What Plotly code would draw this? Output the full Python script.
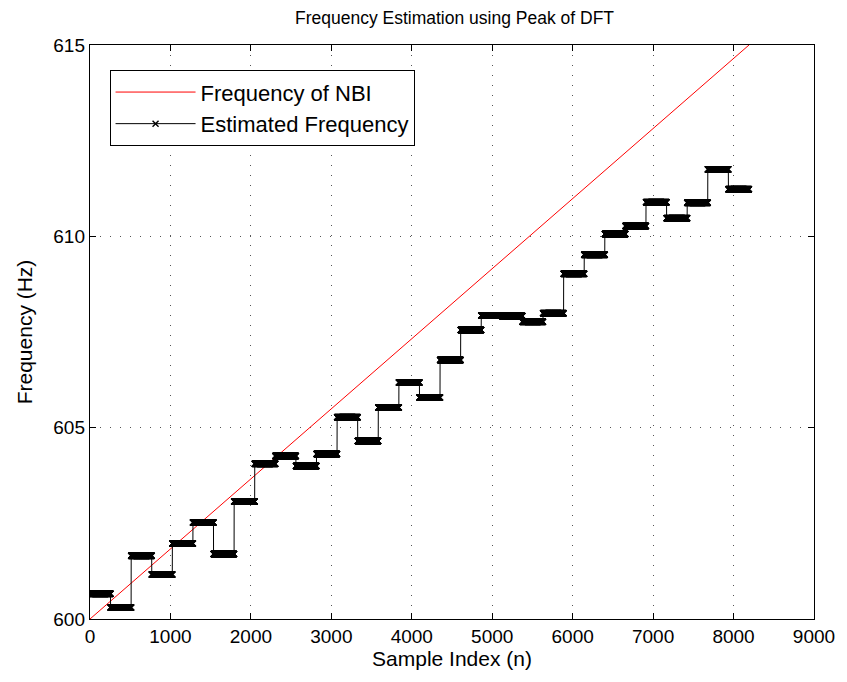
import numpy as np
import plotly.graph_objects as go

# ---- data ----
nbi_n = [0, 8192]
nbi_freq = [600.0, 615.0]

block_len = 256
est_levels = [600.66, 600.30, 601.65, 601.16, 601.97, 602.52, 601.70, 603.07,
              604.06, 604.26, 604.00, 604.31, 605.27, 604.65, 605.53, 606.18,
              605.79, 606.77, 607.55, 607.93, 607.92, 607.77, 607.99, 609.02,
              609.52, 610.06, 610.27, 610.89, 610.47, 610.88, 611.75, 611.23]

x_ticks = [0, 1000, 2000, 3000, 4000, 5000, 6000, 7000, 8000, 9000]
y_ticks = [600, 605, 610, 615]

est_n = np.arange(len(est_levels) * block_len)
est_freq = np.repeat(est_levels, block_len)

font_family = "Liberation Sans, Arial, sans-serif"

fig = go.Figure()
fig.add_trace(go.Scatter(
    x=nbi_n, y=nbi_freq, mode="lines", name="Frequency of NBI",
    line=dict(color="#ff0000", width=1),
))
fig.add_trace(go.Scatter(
    x=est_n, y=est_freq, mode="lines+markers", name="Estimated Frequency",
    line=dict(color="#000000", width=1),
    marker=dict(symbol="x-thin", size=6, color="#000000",
                line=dict(color="#000000", width=1.4)),
))

axis_common = dict(
    showline=True, linecolor="#000000", linewidth=1.4, mirror="ticks",
    ticks="inside", ticklen=6, tickcolor="#000000", tickwidth=1,
    showgrid=True, gridcolor="#555555", griddash="1px,9px", gridwidth=1.2,
    zeroline=False,
    tickfont=dict(family=font_family, size=19, color="#000000"),
)

fig.update_layout(
    width=847, height=682,
    margin=dict(l=90, r=28, t=45, b=63),
    paper_bgcolor="#ffffff", plot_bgcolor="#ffffff",
    title=dict(text="Frequency Estimation using Peak of DFT",
               x=(90 + 819) / 2 / 847, xanchor="center", y=0.974, yanchor="middle",
               font=dict(family=font_family, size=17.5, color="#000000")),
    xaxis=dict(range=[0, 9000], tickvals=x_ticks,
               title=dict(text="Sample Index (n)", standoff=4,
                          font=dict(family=font_family, size=21, color="#000000")),
               **axis_common),
    yaxis=dict(range=[600, 615], tickvals=y_ticks,
               title=dict(text="Frequency (Hz)", standoff=14,
                          font=dict(family=font_family, size=21, color="#000000")),
               **axis_common),
    legend=dict(x=0.027, y=0.956, xanchor="left", yanchor="top",
                bgcolor="#ffffff", bordercolor="#000000", borderwidth=1,
                font=dict(family=font_family, size=22, color="#000000"),
                itemwidth=80, tracegroupgap=0),
    showlegend=True,
)

fig.write_html("out.html")
